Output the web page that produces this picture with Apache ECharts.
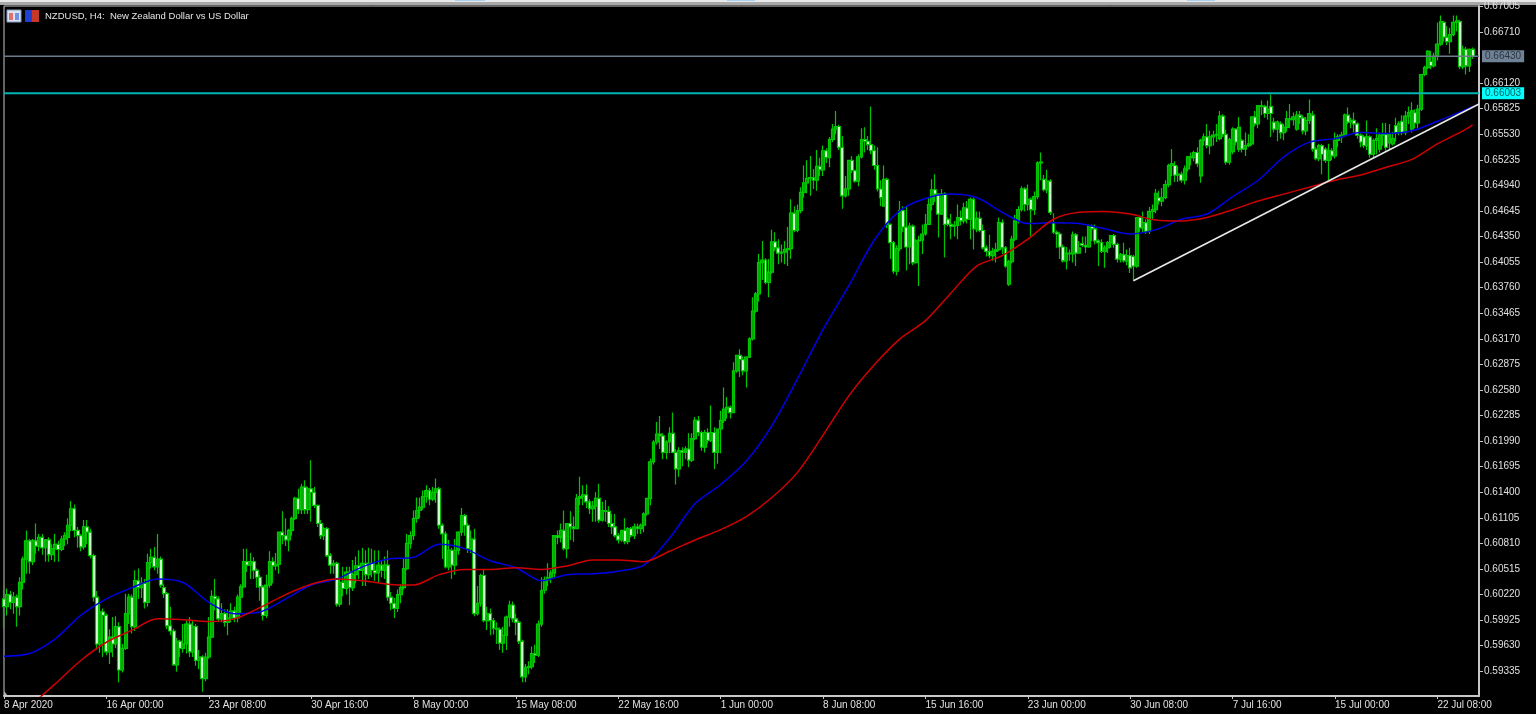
<!DOCTYPE html>
<html>
<head>
<meta charset="utf-8">
<title>NZDUSD H4</title>
<script src="https://cdn.jsdelivr.net/npm/echarts@6/dist/echarts.min.js"></script>
<style>
  html, body { margin: 0; padding: 0; background: #000; }
  #chart { width: 1536px; height: 714px; }
</style>
</head>
<body>
<div id="chart"></div>
<script>
// prices, in pips (0.0001)
const opens = [
  6017,6008,6022,6013,6019,6008,6036,6063,6084,6060,6084,6078,6088,6076,6085,6068,6075,6080,6074,6086,
  6088,6102,6121,6096,6090,6077,6100,6094,6067,6019,5965,6002,5998,5956,5973,5965,5985,5935,5960,6000,
  6019,5985,6038,6030,6035,6013,6059,6065,6054,6063,6030,6023,5986,5980,5941,5968,5960,5965,5988,5956,
  5985,5946,5950,5925,5950,5973,6020,6017,5994,6000,5990,5995,6003,5995,6019,6031,6060,6056,6060,6050,
  6042,6031,5998,6033,6060,6055,6057,6094,6090,6085,6096,6110,6133,6120,6146,6120,6144,6140,6125,6104,
  6090,6098,6067,6056,6058,6011,6036,6029,6048,6030,6045,6055,6050,6058,6045,6058,6050,6047,6056,6050,
  6056,6019,6012,6006,6022,6030,6052,6081,6090,6110,6119,6123,6135,6142,6132,6140,6144,6102,6092,6054,
  6073,6056,6073,6094,6113,6102,6075,6086,6000,6012,6044,5992,6000,5992,5983,5982,5966,5975,5996,6010,
  5994,5990,5968,5927,5938,5939,5954,5952,5988,6027,6039,6042,6047,6090,6088,6096,6075,6104,6100,6098,
  6133,6135,6137,6129,6121,6124,6133,6108,6119,6118,6104,6100,6090,6085,6096,6083,6098,6090,6100,6098,
  6102,6115,6133,6175,6198,6207,6205,6186,6198,6208,6186,6167,6188,6186,6190,6177,6202,6223,6209,6192,
  6209,6200,6209,6186,6213,6223,6236,6238,6232,6280,6298,6293,6280,6296,6317,6349,6369,6405,6408,6382,
  6394,6429,6422,6416,6417,6420,6421,6462,6442,6465,6486,6497,6502,6503,6500,6516,6512,6534,6526,6547,
  6559,6562,6538,6482,6490,6523,6511,6499,6527,6547,6545,6541,6534,6517,6490,6470,6501,6449,6428,6395,
  6421,6465,6446,6423,6447,6405,6430,6431,6438,6449,6472,6489,6484,6461,6484,6455,6449,6447,6448,6457,
  6453,6468,6455,6478,6444,6456,6442,6422,6418,6413,6418,6420,6451,6422,6380,6406,6432,6453,6466,6490,
  6472,6478,6466,6481,6520,6501,6489,6499,6451,6440,6438,6423,6407,6416,6415,6437,6416,6427,6425,6423,
  6447,6444,6430,6428,6418,6422,6428,6436,6426,6409,6414,6407,6413,6412,6401,6457,6445,6451,6441,6464,
  6466,6480,6476,6480,6495,6517,6517,6506,6507,6500,6513,6527,6526,6532,6505,6546,6550,6540,6550,6552,
  6548,6574,6553,6521,6533,6559,6536,6546,6536,6540,6542,6573,6565,6586,6585,6577,6585,6567,6559,6565,
  6555,6561,6571,6570,6559,6575,6572,6557,6569,6575,6536,6525,6540,6536,6523,6534,6528,6546,6550,6552,
  6575,6567,6569,6565,6552,6550,6540,6550,6530,6546,6536,6552,6553,6543,6542,6563,6555,6568,6555,6574,
  6559,6578,6566,6582,6622,6630,6637,6632,6643,6657,6682,6665,6660,6668,6682,6683,6631,6651,6632,6651
]
const closes = [
  6008,6022,6013,6019,6008,6036,6063,6084,6060,6084,6078,6088,6076,6085,6068,6075,6080,6074,6086,6090,
  6102,6121,6096,6090,6077,6100,6094,6067,6019,5965,6002,5998,5956,5973,5965,5985,5935,5960,6000,6019,
  5985,6038,6030,6035,6013,6059,6065,6054,6063,6033,6023,5986,5980,5941,5968,5960,5965,5988,5956,5985,
  5946,5950,5925,5950,5973,6020,6017,5994,6000,5990,5995,6003,5995,6019,6031,6060,6056,6060,6050,6042,
  6031,5998,6033,6060,6055,6057,6094,6090,6085,6096,6110,6133,6120,6146,6120,6144,6140,6125,6104,6090,
  6098,6067,6056,6058,6011,6036,6029,6048,6030,6045,6055,6050,6058,6045,6058,6050,6047,6056,6050,6056,
  6019,6012,6006,6022,6030,6052,6081,6090,6110,6119,6123,6135,6142,6132,6140,6144,6102,6092,6054,6073,
  6056,6073,6094,6113,6102,6075,6086,6000,6012,6044,5992,6000,5992,5983,5982,5966,5975,5996,6010,5994,
  5990,5968,5927,5938,5939,5954,5952,5988,6027,6039,6042,6047,6090,6088,6096,6075,6104,6100,6098,6133,
  6135,6137,6129,6121,6124,6133,6108,6119,6118,6104,6100,6090,6085,6096,6083,6098,6090,6100,6098,6102,
  6115,6133,6175,6198,6207,6205,6186,6198,6208,6186,6167,6188,6186,6190,6177,6202,6223,6209,6192,6209,
  6200,6209,6186,6213,6223,6236,6238,6232,6280,6298,6293,6280,6296,6317,6349,6369,6405,6408,6382,6394,
  6429,6422,6416,6417,6420,6421,6462,6442,6465,6486,6497,6502,6503,6500,6516,6512,6534,6526,6547,6559,
  6562,6538,6482,6490,6523,6511,6499,6527,6547,6545,6541,6534,6517,6490,6480,6501,6449,6428,6395,6421,
  6465,6446,6423,6447,6405,6430,6431,6438,6449,6472,6489,6484,6461,6484,6449,6449,6447,6448,6457,6453,
  6468,6455,6478,6444,6456,6442,6422,6418,6413,6418,6420,6451,6422,6401,6406,6432,6453,6466,6490,6472,
  6478,6466,6481,6520,6521,6489,6499,6463,6440,6438,6423,6407,6416,6415,6437,6416,6422,6425,6423,6447,
  6444,6430,6428,6418,6422,6428,6436,6426,6409,6414,6407,6413,6399,6401,6457,6445,6451,6441,6464,6466,
  6485,6476,6480,6495,6517,6519,6506,6507,6500,6513,6527,6526,6532,6519,6546,6550,6540,6550,6552,6553,
  6574,6553,6521,6547,6559,6544,6561,6536,6540,6542,6573,6565,6586,6585,6577,6582,6577,6559,6567,6555,
  6561,6571,6570,6573,6575,6572,6557,6569,6577,6536,6525,6540,6530,6523,6534,6528,6546,6550,6552,6575,
  6567,6569,6565,6552,6544,6540,6550,6530,6546,6548,6552,6553,6538,6553,6548,6555,6565,6555,6574,6578,
  6580,6566,6582,6622,6630,6649,6632,6643,6657,6683,6665,6660,6668,6682,6684,6631,6651,6632,6651,6643
]
const highs = [
  6027,6029,6026,6025,6022,6042,6066,6096,6086,6086,6104,6092,6092,6086,6088,6080,6092,6084,6090,6094,
  6110,6130,6126,6100,6092,6108,6108,6098,6069,6026,6012,6006,6000,5982,5996,5997,5990,5965,6023,6023,
  6022,6050,6052,6042,6040,6069,6075,6077,6092,6066,6034,6025,6008,5983,5972,5970,5988,5992,5996,5992,
  5988,5958,5952,5955,5996,6027,6040,6020,6012,6005,6005,6012,6008,6022,6034,6075,6075,6070,6065,6052,
  6045,6033,6045,6072,6065,6070,6094,6118,6110,6098,6112,6135,6144,6150,6154,6146,6177,6146,6126,6108,
  6100,6100,6070,6062,6060,6040,6054,6054,6054,6062,6066,6073,6076,6073,6076,6075,6073,6073,6062,6066,
  6073,6025,6018,6028,6034,6063,6092,6095,6119,6134,6134,6142,6148,6145,6146,6156,6146,6104,6095,6085,
  6076,6086,6095,6122,6115,6105,6096,6098,6032,6046,6050,6008,6006,5995,5990,5984,5985,5998,6015,6014,
  6000,5992,5970,5942,5945,5962,5964,5992,6042,6043,6058,6050,6090,6096,6104,6119,6104,6118,6112,6138,
  6158,6148,6149,6132,6130,6140,6150,6129,6131,6124,6115,6115,6093,6096,6110,6100,6100,6104,6104,6104,
  6117,6133,6179,6200,6221,6228,6208,6200,6215,6232,6190,6192,6192,6193,6208,6208,6227,6228,6211,6212,
  6214,6240,6215,6213,6234,6261,6250,6240,6290,6298,6305,6297,6297,6319,6365,6371,6415,6430,6410,6409,
  6443,6440,6432,6426,6430,6446,6478,6470,6472,6492,6517,6523,6528,6513,6535,6526,6540,6537,6550,6565,
  6580,6564,6551,6505,6523,6528,6512,6530,6560,6561,6551,6585,6540,6538,6500,6517,6503,6450,6430,6425,
  6476,6470,6470,6451,6449,6432,6436,6449,6461,6480,6501,6507,6485,6490,6486,6457,6461,6453,6472,6465,
  6474,6476,6480,6480,6464,6464,6449,6425,6437,6422,6428,6457,6455,6424,6408,6436,6460,6470,6493,6492,
  6495,6480,6487,6522,6532,6506,6512,6501,6462,6442,6440,6426,6423,6420,6441,6439,6430,6435,6435,6449,
  6449,6449,6432,6432,6425,6430,6436,6438,6428,6416,6428,6420,6422,6414,6457,6459,6464,6455,6469,6472,
  6490,6488,6491,6500,6519,6536,6522,6516,6510,6517,6528,6532,6534,6538,6548,6554,6565,6557,6557,6565,
  6580,6576,6558,6549,6561,6560,6573,6548,6555,6553,6573,6580,6586,6592,6587,6592,6599,6572,6569,6568,
  6565,6580,6588,6578,6580,6580,6575,6573,6593,6580,6538,6542,6542,6538,6542,6537,6555,6553,6556,6577,
  6584,6572,6578,6567,6554,6552,6569,6552,6548,6560,6555,6566,6566,6565,6556,6572,6568,6575,6580,6585,
  6590,6582,6587,6622,6632,6650,6649,6647,6682,6690,6684,6678,6676,6690,6690,6685,6655,6654,6652,6653
]
const lows = [
  5983,5998,6005,6000,5985,5998,6028,6046,6046,6056,6069,6072,6068,6060,6060,6062,6060,6060,6072,6078,
  6080,6095,6088,6076,6072,6074,6080,6064,6014,5958,5955,5950,5952,5942,5950,5960,5921,5932,5958,5988,
  5977,5980,6017,6018,6006,6008,6052,6050,6046,6030,6018,5982,5975,5940,5933,5950,5955,5954,5950,5950,
  5940,5936,5910,5922,5948,5972,6004,5990,5990,5985,5975,5990,5990,5990,6000,6030,6048,6040,6040,6030,
  6015,5992,5995,6030,6035,6050,6046,6080,6078,6072,6090,6108,6115,6115,6115,6115,6106,6122,6100,6086,
  6085,6065,6046,6046,6008,6008,6020,6022,6010,6026,6035,6040,6032,6032,6040,6042,6038,6036,6042,6040,
  6015,6004,5995,6002,6012,6028,6050,6075,6085,6105,6110,6120,6128,6125,6130,6128,6098,6063,6052,6050,
  6040,6045,6068,6090,6090,6070,6070,5997,5998,6008,5990,5981,5975,5976,5965,5958,5955,5958,5985,5990,
  5975,5965,5921,5921,5930,5936,5943,5950,5985,6023,6032,6035,6042,6080,6082,6073,6064,6085,6083,6098,
  6125,6125,6122,6115,6106,6106,6105,6106,6106,6100,6092,6088,6081,6083,6080,6080,6088,6086,6092,6092,
  6094,6113,6125,6172,6195,6190,6178,6178,6185,6185,6149,6158,6170,6178,6169,6175,6200,6205,6188,6186,
  6196,6198,6167,6173,6185,6220,6225,6225,6232,6278,6273,6275,6261,6295,6315,6347,6360,6385,6380,6365,
  6392,6418,6403,6405,6403,6401,6409,6440,6440,6462,6480,6485,6482,6490,6488,6505,6505,6520,6515,6544,
  6553,6535,6467,6480,6482,6508,6497,6493,6525,6532,6535,6530,6512,6487,6470,6470,6445,6409,6392,6390,
  6418,6440,6396,6403,6402,6404,6378,6415,6436,6449,6465,6475,6434,6460,6411,6447,6432,6435,6432,6448,
  6450,6450,6432,6420,6440,6440,6420,6412,6410,6407,6405,6418,6415,6399,6378,6404,6430,6450,6464,6464,
  6465,6435,6460,6478,6500,6487,6485,6460,6438,6422,6409,6405,6397,6407,6405,6401,6416,6423,6416,6422,
  6430,6426,6401,6416,6399,6416,6422,6422,6405,6405,6405,6402,6393,6384,6399,6440,6440,6438,6438,6455,
  6462,6472,6470,6478,6492,6505,6498,6498,6497,6495,6510,6517,6522,6515,6497,6540,6537,6530,6540,6544,
  6546,6550,6518,6518,6530,6540,6533,6532,6528,6538,6540,6562,6560,6575,6572,6570,6550,6555,6545,6548,
  6546,6556,6560,6563,6557,6565,6553,6552,6565,6533,6523,6522,6507,6520,6500,6523,6525,6538,6543,6550,
  6565,6560,6555,6548,6538,6537,6535,6526,6525,6530,6532,6540,6534,6535,6540,6545,6552,6552,6552,6565,
  6555,6560,6560,6580,6620,6628,6628,6630,6638,6655,6660,6656,6646,6666,6672,6628,6628,6622,6625,6640
]

// moving averages, sampled at these bars
const maBars = [0,8,16,24,32,40,48,56,64,72,80,88,96,104,112,120,128,136,144,152,160,168,176,184,192,200,208,216,224,232,240,248,256,264,272,280,288,296,304,312,320,328,336,344,352,360,368,376,384,392,400,408,416,424,432,440,448,456,459]
const blueMa = [5951,5954,5971,5998,6017,6030,6040,6036,6013,6000,6002,6017,6033,6040,6054,6063,6065,6080,6075,6061,6053,6038,6045,6046,6049,6056,6087,6127,6149,6176,6217,6271,6328,6378,6431,6465,6479,6484,6480,6463,6450,6451,6450,6444,6438,6443,6455,6461,6481,6500,6527,6544,6548,6555,6554,6557,6568,6580,6585]
const redMa = [null,5893,5919,5946,5967,5981,5994,5993,5991,5994,6007,6022,6034,6040,6038,6034,6033,6045,6051,6051,6053,6051,6055,6062,6062,6060,6072,6085,6097,6112,6134,6163,6206,6251,6287,6317,6338,6370,6401,6413,6432,6455,6463,6464,6461,6454,6453,6457,6466,6476,6484,6492,6500,6506,6515,6524,6542,6557,6564]

// trend line drawn on the chart: bars and prices of its two ends
const trendBars = [353, 461]
const trendPrices = [6384, 6588]

// horizontal levels, from the first to the last category
const levelBars = [0, 461]
const bidLine = 6643
const levelLine = 6600.3

const tickLabels = ['8 Apr 2020','16 Apr 00:00','23 Apr 08:00','30 Apr 16:00','8 May 00:00','15 May 08:00','22 May 16:00','1 Jun 00:00','8 Jun 08:00','15 Jun 16:00','23 Jun 00:00','30 Jun 08:00','7 Jul 16:00','15 Jul 00:00','22 Jul 08:00']
const priceTicks = [0.59335,0.5963,0.59925,0.6022,0.60515,0.6081,0.61105,0.614,0.61695,0.6199,0.62285,0.6258,0.62875,0.6317,0.63465,0.6376,0.64055,0.6435,0.64645,0.6494,0.65235,0.6553,0.65825,0.6612,0.6671,0.67005]

const PIP = 10000
const BARS_PER_LABEL = 32
const categories = []
for (let i = 0; i < 462; i++) {
    categories.push(i % BARS_PER_LABEL === 0 ? tickLabels[i / BARS_PER_LABEL] : '')
}

const candles = opens.map((o, i) => [o / PIP, closes[i] / PIP, lows[i] / PIP, highs[i] / PIP])
const toLine = (bars, values) => bars.map((b, i) => [b, values[i] === null ? null : values[i] / PIP])

const chart = echarts.init(document.getElementById('chart'), null, { renderer: 'canvas' })
const font = 'Liberation Sans'

const levelSeries = (price, lineColor, lineWidth, tagColor, textColor) => ({
    type: 'line',
    data: toLine(levelBars, [price, price]),
    showSymbol: false,
    clip: false,
    lineStyle: { color: lineColor, width: lineWidth },
    endLabel: {
        show: true,
        distance: 3,
        formatter: (price / PIP).toFixed(5),
        color: textColor,
        backgroundColor: tagColor,
        padding: [1, 3],
        fontFamily: font,
        fontSize: 10
    }
})

chart.setOption({
    animation: false,
    backgroundColor: '#000',
    title: {
        text: 'NZDUSD, H4:  New Zealand Dollar vs US Dollar',
        left: 45,
        top: 11,
        padding: 0,
        textStyle: { color: '#e4e4e4', fontFamily: font, fontSize: 9.5, fontWeight: 'normal' }
    },
    grid: { left: 4, right: 57, top: 6, bottom: 18, show: true, borderColor: '#c8c8c8', borderWidth: 1, backgroundColor: '#000' },
    xAxis: {
        type: 'category',
        data: categories,
        boundaryGap: false,
        axisLine: { lineStyle: { color: '#c8c8c8', width: 2 } },
        axisTick: { interval: BARS_PER_LABEL - 1, length: 3, lineStyle: { color: '#c8c8c8' } },
        axisLabel: {
            interval: BARS_PER_LABEL - 1, align: 'left', margin: 4, color: '#e0e0e0',
            fontFamily: font, fontSize: 10, hideOverlap: false
        },
        splitLine: { show: false }
    },
    yAxis: {
        type: 'value',
        position: 'right',
        min: 0.5905,
        max: 0.6701,
        axisLine: { show: true, lineStyle: { color: '#c8c8c8', width: 2 } },
        axisTick: { show: true, length: 4, customValues: priceTicks, lineStyle: { color: '#c8c8c8' } },
        axisLabel: {
            customValues: priceTicks, margin: 5, color: '#e0e0e0', fontFamily: font, fontSize: 10,
            formatter: v => v.toFixed(5), showMinLabel: true, showMaxLabel: true
        },
        splitLine: { show: false }
    },
    series: [
        levelSeries(bidLine, '#6a7b8c', 1.5, '#6f8296', '#2c3540'),
        levelSeries(levelLine, '#00b4b4', 2, '#00ffff', '#006060'),
        {
            type: 'candlestick',
            data: candles,
            barWidth: 3.4,
            clip: true,
            itemStyle: {
                color: '#00a800', borderColor: '#00c800',
                color0: '#e8ffe8', borderColor0: '#00c000',
                borderColorDoji: '#00c800', borderWidth: 1.2
            }
        },
        {
            type: 'line',
            data: toLine(maBars, blueMa),
            smooth: 0.3,
            showSymbol: false,
            clip: true,
            lineStyle: { color: '#0000e6', width: 1.5 }
        },
        {
            type: 'line',
            data: toLine(maBars, redMa),
            smooth: 0.3,
            showSymbol: false,
            clip: true,
            lineStyle: { color: '#d00000', width: 1.5 }
        },
        {
            type: 'line',
            data: toLine(trendBars, trendPrices),
            showSymbol: false,
            lineStyle: { color: '#e8e8e8', width: 1.6 }
        }
    ],
    graphic: [
        // top window edge, tabs cut off by the screenshot and the small chart icons
        { type: 'rect', shape: { x: 0, y: 0, width: 1536, height: 2 }, style: { fill: '#e8e8e8' } },
        { type: 'rect', shape: { x: 0, y: 2, width: 1536, height: 3 }, style: { fill: '#a8a8a8' } },
        { type: 'rect', shape: { x: 455, y: 0, width: 30, height: 1 }, style: { fill: '#a8d0f0' } },
        { type: 'rect', shape: { x: 727, y: 0, width: 28, height: 1 }, style: { fill: '#a8d0f0' } },
        { type: 'rect', shape: { x: 1187, y: 0, width: 28, height: 1 }, style: { fill: '#a8d0f0' } },
        { type: 'rect', shape: { x: 7, y: 10, width: 14, height: 12 }, style: { fill: '#d8e4f4', stroke: '#8898c0' } },
        { type: 'rect', shape: { x: 9, y: 13, width: 4, height: 7 }, style: { fill: '#e07070' } },
        { type: 'rect', shape: { x: 15, y: 13, width: 4, height: 7 }, style: { fill: '#7090e0' } },
        { type: 'rect', shape: { x: 25, y: 10, width: 7, height: 12 }, style: { fill: '#2040d0' } },
        { type: 'rect', shape: { x: 32, y: 10, width: 7, height: 12 }, style: { fill: '#c83828' } },
        { type: 'polygon', shape: { points: [[4, 691], [8, 696], [4, 696]] }, style: { fill: '#b0b0b0' } }
    ]
})
</script>
</body>
</html>
